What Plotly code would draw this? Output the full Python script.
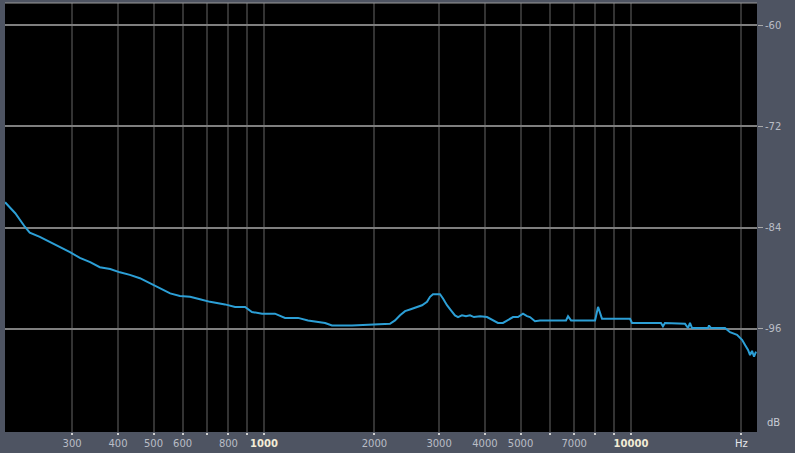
import plotly.graph_objects as go

# Spectrum data (frequency in Hz, level in dB)
freq_hz = [197, 210, 223, 230, 245, 261, 278, 296, 315, 336, 357, 381, 405, 431, 459,
           489, 521, 555, 590, 629, 669, 713, 783, 834, 888, 927, 988, 1071, 1141, 1238,
           1318, 1467, 1532, 1737, 2204, 2275, 2348, 2423, 2499, 2611, 2695, 2781, 2834,
           2887, 3017, 3074, 3152, 3232, 3314, 3378, 3463, 3551, 3641, 3734, 3878, 4052,
           4207, 4340, 4479, 4593, 4770, 4921, 5078, 5206, 5305, 5475, 5649, 6651, 6736,
           6864, 7980, 8132, 8337, 9938, 10063, 12067, 12220, 12374, 14035, 14303, 14478,
           14665, 16213, 16316, 16519, 18037, 18614, 19448, 20072, 20452, 20842, 21106,
           21371, 21640, 21912]
level_db = [-81.0, -82.3, -83.9, -84.6, -85.1, -85.7, -86.3, -86.9, -87.6, -88.1, -88.7,
            -88.9, -89.3, -89.6, -90.0, -90.6, -91.2, -91.8, -92.1, -92.2, -92.5, -92.8,
            -93.1, -93.4, -93.4, -94.0, -94.2, -94.2, -94.7, -94.7, -95.0, -95.3, -95.6,
            -95.6, -95.4, -95.0, -94.4, -93.9, -93.7, -93.4, -93.2, -92.8, -92.2, -91.9,
            -91.9, -92.4, -93.2, -93.8, -94.4, -94.6, -94.4, -94.5, -94.4, -94.6, -94.5,
            -94.6, -95.0, -95.3, -95.3, -95.0, -94.6, -94.6, -94.2, -94.5, -94.6, -95.1,
            -95.0, -95.0, -94.5, -95.0, -95.0, -93.4, -94.8, -94.8, -95.3, -95.3, -95.7,
            -95.3, -95.4, -95.9, -95.3, -95.9, -95.9, -95.6, -95.9, -95.9, -96.4, -96.7,
            -97.3, -97.9, -98.5, -99.1, -98.6, -99.3, -98.7]

# Axis ticks
x_grid_vals = [300, 400, 500, 600, 700, 800, 900, 1000, 2000, 3000, 4000, 5000,
               6000, 7000, 8000, 9000, 10000, 20000]
x_grid_text = ["300", "400", "500", "600", "", "800", "", "1000", "2000", "3000",
               "4000", "5000", "", "7000", "", "", "10000", "Hz"]
x_highlight = ["1000", "10000"]
y_tick_vals = [-60, -72, -84, -96]
y_tick_text = ["-60", "-72", "-84", "-96"]

ticktext = []
for t in x_grid_text:
    if t in x_highlight:
        ticktext.append('<span style="color:#f2ecd6;font-weight:bold">%s</span>' % t)
    elif t == "Hz":
        ticktext.append('<span style="color:#e6e8ec">%s</span>' % t)
    else:
        ticktext.append(t)

fig = go.Figure()
fig.add_trace(go.Scatter(
    x=freq_hz, y=level_db, mode="lines",
    line=dict(color="#2c9fd6", width=2),
    hoverinfo="skip", showlegend=False,
))

fig.update_layout(
    width=795, height=453,
    margin=dict(l=5, r=38, t=3, b=21),
    paper_bgcolor="#4e5462",
    plot_bgcolor="#000000",
    font=dict(family="DejaVu Sans", size=10, color="#b9bdc6"),
    showlegend=False,
    xaxis=dict(
        type="log", range=[2.2943, 4.3433],
        tickmode="array", tickvals=x_grid_vals, ticktext=ticktext,
        showgrid=True, gridcolor="#333333", gridwidth=2,
        ticks="outside", ticklen=2, tickcolor="#d0d0d0", tickwidth=1.5,
        zeroline=False, showline=False,
        tickfont=dict(size=10, color="#b9bdc6"),
        fixedrange=True,
    ),
    yaxis=dict(
        side="right", range=[-108.22, -57.39],
        tickmode="array", tickvals=y_tick_vals, ticktext=y_tick_text,
        showgrid=True, gridcolor="#7e7e7e", gridwidth=2,
        ticks="outside", ticklen=5, tickcolor="#a8a8a8", tickwidth=1,
        zeroline=False, showline=False,
        tickfont=dict(size=10, color="#b9bdc6"),
        fixedrange=True,
    ),
    annotations=[
        dict(text="dB", xref="paper", yref="paper", x=1.0, y=0.0,
             xanchor="left", yanchor="bottom", xshift=8, yshift=2,
             showarrow=False, font=dict(size=10, color="#c8ccd4")),
    ],
    shapes=[
        dict(type="line", xref="paper", yref="paper", x0=0, x1=1, y0=1, y1=1,
             line=dict(color="#9a9a9a", width=1)),
    ],
)

fig.write_html("out.html")
